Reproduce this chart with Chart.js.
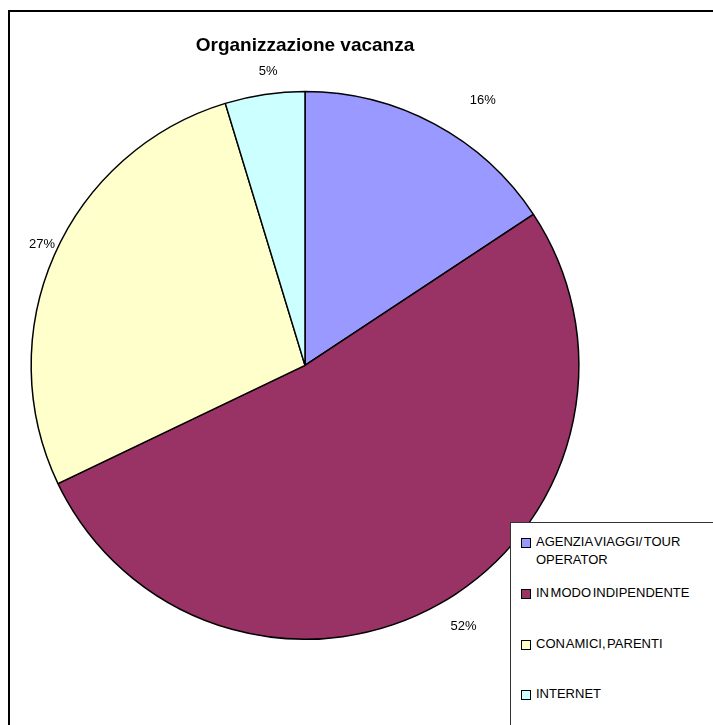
<!DOCTYPE html>
<html>
<head>
<meta charset="utf-8">
<script src="https://cdn.jsdelivr.net/npm/chart.js@4.4.1/dist/chart.umd.min.js"></script>
<style>
  html, body { margin: 0; padding: 0; background: #fff; }
  #wrap { position: relative; width: 713px; height: 725px; overflow: hidden; }
  #frame { position: absolute; left: 8px; top: 10px; width: 760px; height: 760px; border: 2px solid #000; box-sizing: border-box; }
  #chart { position: absolute; left: 0; top: 0; }
  #legend {
    position: absolute; left: 510px; top: 522px; width: 260px; height: 260px;
    border: 1px solid #333; background: #fff;
    font-family: "Liberation Sans", Arial, sans-serif; font-size: 13px; color: #000;
    word-spacing: -2px;
  }
  .item { position: absolute; left: 10px; display: flex; align-items: flex-start; }
  .sw { width: 8px; height: 8px; border: 1px solid #000; margin-top: 3px; margin-right: 5px; flex: none; }
  .txt { width: 150px; line-height: 18px; margin-top: -2px; white-space: normal; }
  .txt.nowrap { white-space: nowrap; width: auto; }
</style>
</head>
<body>
<div id="wrap">
  <div id="frame"></div>
  <canvas id="chart" width="713" height="725"></canvas>
  <div id="legend"></div>
</div>
<script>
const categories = ['AGENZIA VIAGGI/ TOUR OPERATOR', 'IN MODO INDIPENDENTE', 'CON AMICI, PARENTI', 'INTERNET'];
const shares = [15.7, 52.2, 27.4, 4.7];
const pctLabels = ['16%', '52%', '27%', '5%'];
const colors = ['#9999FF', '#993366', '#FFFFCC', '#CCFFFF'];

// label placement tweaks: gap beyond the rim (px) and turn off the mid angle (rad)
const labelGap = [32, 19, 1, 14];
const labelTurn = [0.098, -0.03, 0.017, 0.023];

const outsideLabels = {
    id: 'outsideLabels',
    afterDatasetsDraw(chart) {
        const { ctx } = chart;
        const meta = chart.getDatasetMeta(0);
        ctx.save();
        ctx.font = '13px "Liberation Sans", Arial, sans-serif';
        ctx.fillStyle = '#000';
        ctx.textAlign = 'center';
        ctx.textBaseline = 'middle';
        meta.data.forEach((arc, i) => {
            const { x, y, startAngle, endAngle, outerRadius } = arc.getProps(['x', 'y', 'startAngle', 'endAngle', 'outerRadius'], true);
            const mid = (startAngle + endAngle) / 2 + labelTurn[i];
            const cos = Math.cos(mid), sin = Math.sin(mid);
            const w = ctx.measureText(pctLabels[i]).width;
            const ext = Math.abs(cos) * w / 2 + Math.abs(sin) * 7;
            const d = outerRadius + labelGap[i] + ext;
            ctx.fillText(pctLabels[i], x + cos * d, y + sin * d);
        });
        ctx.restore();
    }
};

new Chart(document.getElementById('chart'), {
    type: 'pie',
    data: {
        labels: categories,
        datasets: [{
            data: shares,
            backgroundColor: colors,
            borderColor: '#000',
            borderWidth: 1.5
        }]
    },
    options: {
        responsive: false,
        animation: false,
        layout: { padding: { left: 30, right: 133, top: 29, bottom: 85 } },
        plugins: {
            legend: { display: false },
            tooltip: { enabled: false },
            title: {
                display: true,
                text: 'Organizzazione vacanza',
                color: '#000',
                font: { family: '"Liberation Sans", Arial, sans-serif', size: 19, weight: 'bold', lineHeight: 1.2 },
                padding: { top: 5, bottom: 34 }
            }
        }
    },
    plugins: [outsideLabels]
});

// legend built from the same arrays
const legend = document.getElementById('legend');
const rowTops = [12, 63, 114, 164];
categories.forEach((c, i) => {
    const item = document.createElement('div');
    item.className = 'item';
    item.style.top = rowTops[i] + 'px';
    const sw = document.createElement('div');
    sw.className = 'sw';
    sw.style.background = colors[i];
    const t = document.createElement('div');
    t.className = i === 0 ? 'txt' : 'txt nowrap';
    t.textContent = c;
    item.appendChild(sw);
    item.appendChild(t);
    legend.appendChild(item);
});
</script>
</body>
</html>
